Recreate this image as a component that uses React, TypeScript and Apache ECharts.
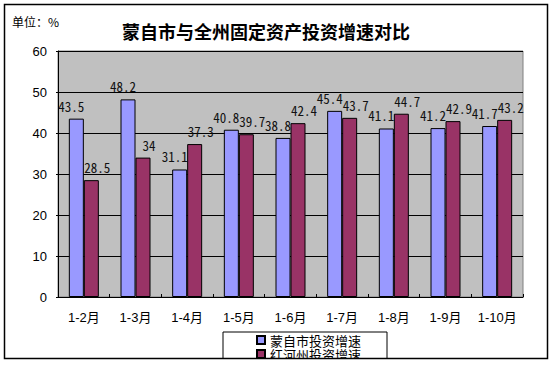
import React, { useEffect, useRef } from "react";
import * as echarts from "echarts";

const categories = ["1-2月", "1-3月", "1-4月", "1-5月", "1-6月", "1-7月", "1-8月", "1-9月", "1-10月"];
const mengziValues = [43.5, 48.2, 31.1, 40.8, 38.8, 45.4, 41.1, 41.2, 41.7];
const hongheValues = [28.5, 34, 37.3, 39.7, 42.4, 43.7, 44.7, 42.9, 43.2];
const seriesNames = ["蒙自市投资增速", "红河州投资增速"];
const titleText = "蒙自市与全州固定资产投资增速对比";
const unitText = "单位：%";

const CJK = "'Noto Sans CJK SC', sans-serif";
const LABEL_FONT = "'Noto Sans Mono CJK SC', 'DejaVu Sans Mono', monospace";

export default function App() {
  const ref = useRef<HTMLDivElement>(null);
  useEffect(() => {
    if (!ref.current) return;
    const chart = echarts.init(ref.current, undefined, { renderer: "svg" });
    const makeLabel = (dx: number) => ({
      show: true,
      position: "top",
      distance: 6,
      offset: [dx, 0],
      color: "#111",
      fontSize: 13,
      fontFamily: LABEL_FONT,
    });
    chart.setOption({
      animation: false,
      backgroundColor: "#fff",
      grid: {
        left: 58,
        right: 30,
        top: 51,
        bottom: 69,
        show: true,
        backgroundColor: "#C0C0C0",
        borderColor: "#808080",
        borderWidth: 1,
      },
      legend: {
        orient: "vertical",
        left: 223,
        top: 332,
        padding: [1, 26, 0, 33],
        itemGap: 0,
        itemWidth: 8,
        itemHeight: 8,
        borderColor: "#000",
        borderWidth: 1,
        textStyle: { fontSize: 13, fontFamily: CJK, color: "#000", lineHeight: 14 },
        data: seriesNames.map((n) => ({ name: n, icon: "rect" })),
      },
      xAxis: {
        type: "category",
        data: categories,
        axisLine: { lineStyle: { color: "#000", width: 1 } },
        axisTick: { show: true, inside: true, length: 3, lineStyle: { color: "#000" } },
        axisLabel: {
          fontSize: 13,
          color: "#000",
          margin: 14,
          fontFamily: "'Liberation Sans', 'Noto Sans CJK SC', sans-serif",
        },
      },
      yAxis: {
        type: "value",
        min: 0,
        max: 60,
        interval: 10,
        axisLine: { show: true, lineStyle: { color: "#000", width: 1 } },
        axisTick: { show: true, length: 2, lineStyle: { color: "#000" } },
        axisLabel: {
          fontSize: 13,
          color: "#000",
          margin: 11,
          fontFamily: "'Liberation Sans', Arial, sans-serif",
        },
        splitLine: { lineStyle: { color: "#000", width: 1 } },
      },
      series: [
        {
          name: seriesNames[0],
          type: "bar",
          data: mengziValues,
          barWidth: 15,
          barGap: "0%",
          itemStyle: { color: "#9999FF", borderColor: "#000", borderWidth: 1 },
          label: makeLabel(-5),
        },
        {
          name: seriesNames[1],
          type: "bar",
          data: hongheValues,
          barWidth: 15,
          itemStyle: { color: "#993366", borderColor: "#000", borderWidth: 1 },
          label: makeLabel(6),
        },
      ],
      graphic: [
        {
          type: "text",
          x: 266,
          y: 31,
          style: {
            text: titleText,
            fontSize: 18,
            fontWeight: "bold",
            fontFamily: CJK,
            fill: "#000",
            textAlign: "center",
            textVerticalAlign: "middle",
          },
        },
        {
          type: "text",
          x: 12,
          y: 21,
          style: {
            text: unitText,
            fontSize: 12,
            fontFamily: CJK,
            fill: "#000",
            textAlign: "left",
            textVerticalAlign: "middle",
          },
        },
        {
          type: "rect",
          z: 100,
          shape: { x: 0, y: 359, width: 553, height: 10 },
          style: { fill: "#fff" },
        },
        {
          type: "rect",
          z: 101,
          shape: { x: 4.5, y: 4.5, width: 543, height: 354 },
          style: { fill: "none", stroke: "#000", lineWidth: 1.5 },
        },
      ],
    });
    return () => chart.dispose();
  }, []);
  return (
    <div
      ref={ref}
      style={{ position: "fixed", left: 0, top: 0, width: 553, height: 366 }}
    />
  );
}
